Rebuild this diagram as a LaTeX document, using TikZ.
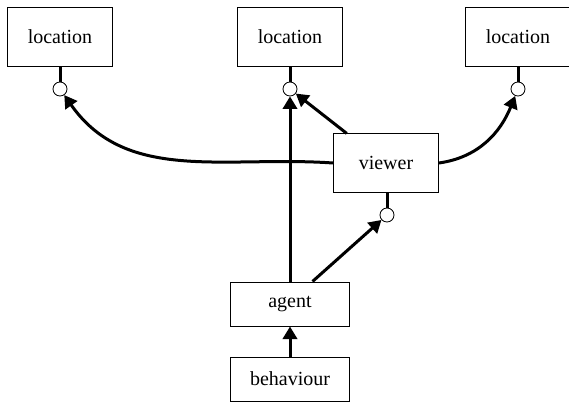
\documentclass[tikz,border=0pt]{standalone}
\usepackage{fontspec}
\setmainfont{Liberation Serif}
\usetikzlibrary{arrows.meta,positioning}
\tikzset{
  block/.style={draw,rectangle,line width=0.5pt,fill=white,minimum width=63pt,minimum height=35pt,align=center,font=\fontsize{12}{14}\selectfont},
  wideblock/.style={block,minimum width=71pt,minimum height=26.5pt},
  port/.style={draw,circle,line width=0.5pt,fill=white,minimum size=8.4pt,inner sep=0pt},
  stub/.style={line width=1.8pt},
  wire/.style={->,line width=1.8pt}
}

\begin{document}
\begin{tikzpicture}[x=0.6pt,y=-0.6pt,>={Triangle[length=7.5pt,width=8.5pt]}]
  \useasboundingbox (0,0) rectangle (569,403);
  \node[block] (loc1) at (60,37) {location};
  \node[block] (loc2) at (290,37) {location};
  \node[block] (loc3) at (518,37) {location};
  \node[block] (viewer) at (386,163) {viewer};
  \node[wideblock] (agent) at (290,304) {agent};
  \node[wideblock] (behaviour) at (290,379) {behaviour};
  \node[port] (p1) at (60,89) {};
  \node[port] (p2) at (290,89) {};
  \node[port] (p3) at (518,89) {};
  \node[port] (p4) at (387,215) {};
  \draw[stub] (loc1.south)--(p1.north);
  \draw[stub] (loc2.south)--(p2.north);
  \draw[stub] (loc3.south)--(p3.north);
  \draw[stub] (viewer.south-|p4)--(p4.north);
  \draw[wire] (behaviour.north)--(agent.south);
  \draw[wire] (agent.north)--(p2.south);
  \draw[wire] (agent.45)--(p4);
  \draw[wire] (viewer.143)--(p2);
  \draw[wire] (viewer.west) to[out=176,in=-55] (p1);
  \draw[wire] (viewer.east) to[out=8,in=-112] (p3);
\end{tikzpicture}
\end{document}
